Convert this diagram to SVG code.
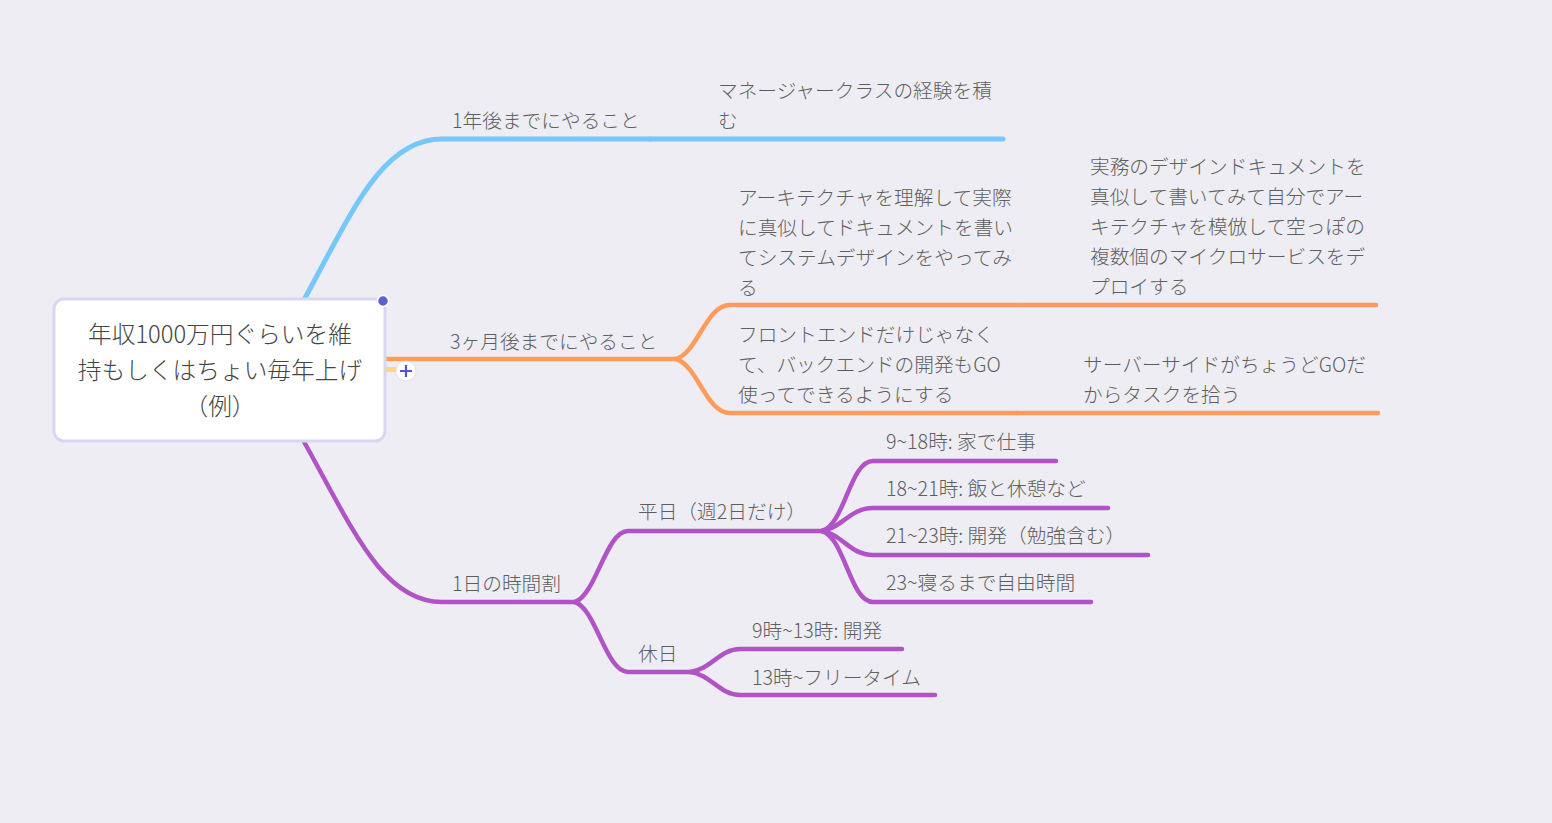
<svg xmlns="http://www.w3.org/2000/svg" width="1552" height="823" viewBox="0 0 1552 823">
<style>
.t{font-family:"Noto Sans CJK JP","Noto Sans",sans-serif;font-size:19.7px;font-weight:300;fill:#5e5e5e}
.r{font-family:"Noto Sans CJK JP","Noto Sans",sans-serif;font-size:23.7px;font-weight:300;fill:#444;text-anchor:middle}
.c{fill:none;stroke-linecap:round;stroke-linejoin:round}
.b{stroke:#76c8fb;stroke-width:5}
.o{stroke:#ff9b5c;stroke-width:4.5}
.p{stroke:#b153c7;stroke-width:4.5}
</style>
<rect width="1552" height="823" fill="#eeedf3"/>
<g id="connectors">
<path class="c b" d="M305,298 C352,212 382,139 442,139 L650,139"/>
<path class="c b" d="M650,139 L1003,139"/>
<path class="c o" d="M386,359 L676,359"/>
<path class="c o" d="M676,359 C698,352 706,305 730,305 L1022,305"/>
<path class="c o" d="M1022,305 L1376,305"/>
<path class="c o" d="M676,359 C698,366 706,413 730,413 L1016,413"/>
<path class="c o" d="M1016,413 L1378,413"/>
<path class="c p" d="M303,440 C352,527 382,602 442,602 L575,602"/>
<path class="c p" d="M575,602 C596,595 606,531 628,531 L822,531"/>
<path class="c p" d="M575,602 C596,609 606,672 628,672 L690,672"/>
<path class="c p" d="M822,531 C845,524 850,461 873,461 L1056,461"/>
<path class="c p" d="M822,531 C842,528 850,508 873,508 L1108,508"/>
<path class="c p" d="M822,531 C842,534 850,555 873,555 L1148,555"/>
<path class="c p" d="M822,531 C845,538 850,602 873,602 L1091,602"/>
<path class="c p" d="M690,672 C710,670 720,649 740,649 L902,649"/>
<path class="c p" d="M690,672 C710,674 720,695 740,695 L935,695"/>
</g>
<g id="root">
<rect x="54" y="299" width="331" height="142" rx="10" fill="#fff" stroke="#d9d7f0" stroke-width="3"/>
<text class="r" x="220" y="343">年収1000万円ぐらいを維</text>
<text class="r" x="220" y="379">持もしくはちょい毎年上げ</text>
<text class="r" x="220" y="415">（例）</text>
<rect x="386" y="367" width="12" height="5" fill="#fcd97c"/>
<circle cx="383" cy="301" r="5.5" fill="#5f5fd4" stroke="#fff" stroke-width="1.5"/>
<circle cx="406" cy="371" r="10" fill="#fff" stroke="#e4e3ee" stroke-width="1"/>
<path d="M400,371 H412 M406,365 V377" stroke="#5555d0" stroke-width="2.2" fill="none"/>
</g>
<g id="n1year"><text class="t" x="452" y="128">1年後までにやること</text></g>
<g id="nmanager"><text class="t" x="718" y="98">マネージャークラスの経験を積</text><text class="t" x="718" y="128">む</text></g>
<g id="n3month"><text class="t" x="450" y="349">3ヶ月後までにやること</text></g>
<g id="narch">
<text class="t" x="738" y="205">アーキテクチャを理解して実際</text>
<text class="t" x="738" y="235">に真似してドキュメントを書い</text>
<text class="t" x="738" y="265">てシステムデザインをやってみ</text>
<text class="t" x="738" y="295">る</text>
</g>
<g id="ndesign">
<text class="t" x="1090" y="174">実務のデザインドキュメントを</text>
<text class="t" x="1090" y="204">真似して書いてみて自分でアー</text>
<text class="t" x="1090" y="234">キテクチャを模倣して空っぽの</text>
<text class="t" x="1090" y="264">複数個のマイクロサービスをデ</text>
<text class="t" x="1090" y="294">プロイする</text>
</g>
<g id="nfront">
<text class="t" x="738" y="342">フロントエンドだけじゃなく</text>
<text class="t" x="738" y="372">て、バックエンドの開発もGO</text>
<text class="t" x="738" y="402">使ってできるようにする</text>
</g>
<g id="nserver">
<text class="t" x="1083" y="372">サーバーサイドがちょうどGOだ</text>
<text class="t" x="1083" y="402">からタスクを拾う</text>
</g>
<g id="nday"><text class="t" x="452" y="591">1日の時間割</text></g>
<g id="nweekday"><text class="t" x="638" y="519">平日（週2日だけ）</text></g>
<g id="nholiday"><text class="t" x="638" y="661">休日</text></g>
<g id="nw1"><text class="t" x="886" y="449">9~18時: 家で仕事</text></g>
<g id="nw2"><text class="t" x="886" y="496">18~21時: 飯と休憩など</text></g>
<g id="nw3"><text class="t" x="886" y="543">21~23時: 開発（勉強含む）</text></g>
<g id="nw4"><text class="t" x="886" y="590">23~寝るまで自由時間</text></g>
<g id="nh1"><text class="t" x="752" y="638">9時~13時: 開発</text></g>
<g id="nh2"><text class="t" x="752" y="685">13時~フリータイム</text></g>
</svg>
